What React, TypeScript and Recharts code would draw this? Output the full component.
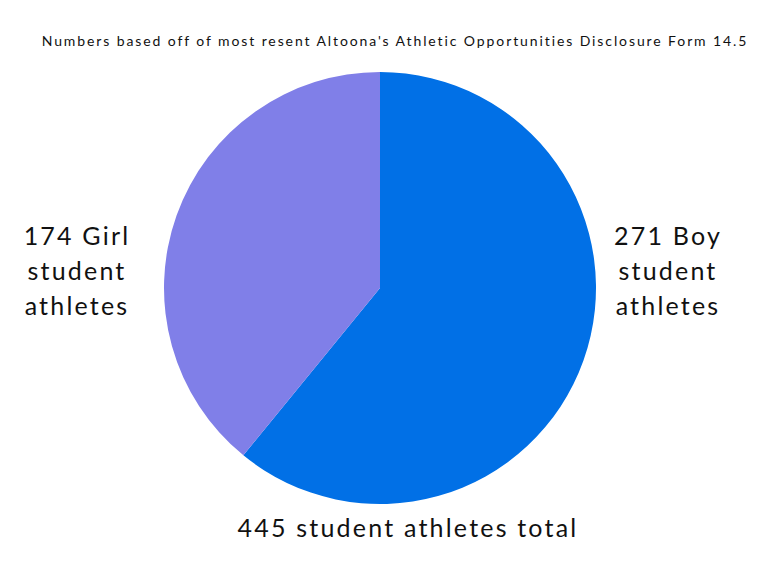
import { PieChart, Pie, Cell } from 'recharts';

const categories = ['Boy', 'Girl'];
const athletes = [271, 174];
const colors = ['#0170E6', '#807FE8'];

const TITLE = "Numbers based off of most resent Altoona's Athletic Opportunities Disclosure Form 14.5";
const TOTAL_LABEL = '445 student athletes total';

const data = categories.map((c, i) => ({ name: c, value: athletes[i] }));

const labelStyle: React.CSSProperties = {
  position: 'absolute',
  fontFamily: 'Lato, sans-serif',
  fontSize: 25,
  lineHeight: '35px',
  letterSpacing: 2.2,
  color: '#111',
  textAlign: 'center',
  whiteSpace: 'nowrap',
};

export default function App() {
  return (
    <div style={{ position: 'relative', width: 771, height: 577, margin: -8, background: '#fff' }}>
      <PieChart width={771} height={577} margin={{ top: 0, right: 0, bottom: 0, left: 0 }}>
        <Pie
          data={data}
          dataKey="value"
          nameKey="name"
          cx={380}
          cy={288}
          outerRadius={216}
          startAngle={90}
          endAngle={-270}
          stroke="none"
          isAnimationActive={false}
        >
          {data.map((d, i) => (
            <Cell key={d.name} fill={colors[i]} />
          ))}
        </Pie>
      </PieChart>
      <div
        style={{
          position: 'absolute', left: 0, width: 790, top: 32, textAlign: 'center',
          fontFamily: 'Lato, sans-serif', fontSize: 14, letterSpacing: 1.9, color: '#111',
          whiteSpace: 'nowrap',
        }}
      >
        {TITLE}
      </div>
      <div style={{ ...labelStyle, left: 17, width: 120, top: 218 }}>
        {athletes[1]} Girl<br />student<br />athletes
      </div>
      <div style={{ ...labelStyle, left: 608, width: 120, top: 218 }}>
        {athletes[0]} Boy<br />student<br />athletes
      </div>
      <div style={{ ...labelStyle, left: 208, width: 400, top: 510 }}>{TOTAL_LABEL}</div>
    </div>
  );
}
